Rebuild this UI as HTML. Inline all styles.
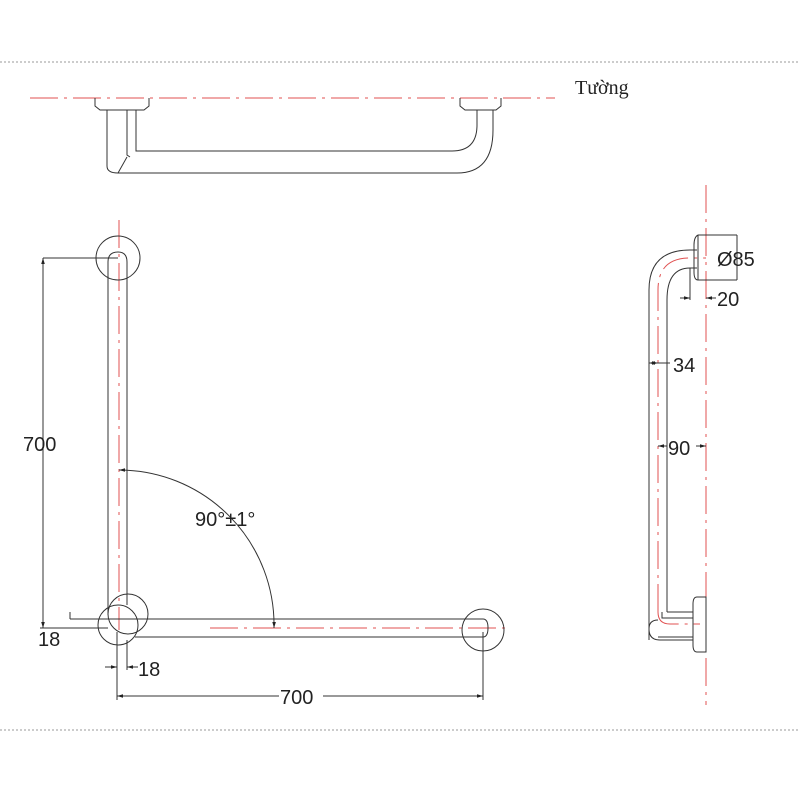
<!DOCTYPE html>
<html><head><style>body{margin:0;background:#fff}svg{display:block}text{font-family:"Liberation Sans",sans-serif;fill:#222}</style></head>
<body>
<svg width="800" height="800" viewBox="0 0 800 800" xmlns="http://www.w3.org/2000/svg">
<defs><marker id="a" viewBox="0 0 10 10" refX="10" refY="5" markerWidth="6" markerHeight="6" orient="auto-start-reverse"><path d="M0,2 L10,5 L0,8z" fill="#222"/></marker></defs>
<g stroke="#999" stroke-dasharray="2,2" stroke-width="1"><line x1="0" y1="62" x2="800" y2="62"/><line x1="0" y1="730" x2="800" y2="730"/></g>
<g stroke="#e05050" stroke-width="1" stroke-dasharray="28,6,3,6" fill="none">
<line x1="30" y1="98" x2="555" y2="98"/>
<line x1="119" y1="220" x2="119" y2="630"/>
<line x1="210" y1="628" x2="505" y2="628"/>
<line x1="706" y1="185" x2="706" y2="705"/>
<path d="M658,612 V290 Q658,258 690,258 H706"/>
<path d="M658,612 Q658,624 670,624 H700"/>
</g>
<g stroke="#333" stroke-width="1" fill="none">
<path d="M95,98 V106 L100,110 H144 L149,106 V98"/>
<path d="M460,98 V106 L465,110 H496 L501,106 V98"/>
<path d="M107,110 V166 Q107,173 118,173 H457 Q493,173 493,130 V110"/>
<path d="M477,110 V125 Q477,151 452,151 H136 V110"/>
<path d="M127,110 V155 L130,157"/><line x1="118" y1="173" x2="127" y2="157"/>
<text x="575" y="94" style="font-family:'Liberation Serif',serif;font-size:20px" stroke="none">Tường</text>
<circle cx="118" cy="258" r="22"/>
<path d="M108,615 V262 Q108,252 118,252 Q127,252 127,262 V605"/>
<circle cx="128" cy="614" r="20"/><circle cx="118" cy="625" r="20"/>
<path d="M140,619 H483 Q488,619 488,628 Q488,637 483,637 H135"/>
<circle cx="483" cy="630" r="21"/>
<line x1="70" y1="619" x2="140" y2="619"/><line x1="40" y1="628" x2="108" y2="628"/>
<line x1="70" y1="612" x2="70" y2="619"/>
<line x1="43" y1="258" x2="118" y2="258"/>
<line x1="43" y1="258" x2="43" y2="628" marker-start="url(#a)" marker-end="url(#a)"/>
<line x1="117" y1="632" x2="117" y2="700"/><line x1="483" y1="632" x2="483" y2="700"/>
<line x1="127" y1="640" x2="127" y2="670"/>
<line x1="117" y1="696" x2="483" y2="696" marker-start="url(#a)" marker-end="url(#a)"/>
<line x1="105" y1="667" x2="117" y2="667" marker-end="url(#a)"/>
<line x1="138" y1="667" x2="127" y2="667" marker-end="url(#a)"/>
<path d="M274,628 A155,155 0 0 0 119,470" marker-start="url(#a)" marker-end="url(#a)"/>
<path d="M698,235 H737 M698,280 H737 M737,235 V280"/>
<path d="M698,235 Q694,237 694,245 V272 Q694,280 698,280 V235"/>
<path d="M649,640 V290 Q649,250 690,250 H697"/>
<path d="M667,612 V300 Q667,268 690,268 H697"/>
<line x1="690" y1="268" x2="690" y2="300"/>
<path d="M697,597 H706 V652 H697 Q693,652 693,645 V604 Q693,597 697,597Z"/>
<path d="M667,612 H693 M662,612 V618 H693 M658,637 H693"/>
<path d="M658,620 Q649,620 649,629 Q649,640 660,640 H693"/>
<line x1="680" y1="298" x2="690" y2="298" marker-end="url(#a)"/>
<line x1="716" y1="298" x2="706" y2="298" marker-end="url(#a)"/>
<line x1="670" y1="363" x2="649" y2="363" marker-end="url(#a)"/>
<line x1="649" y1="363" x2="658" y2="363" marker-end="url(#a)"/>
<line x1="667" y1="446" x2="658" y2="446" marker-end="url(#a)"/>
<line x1="696" y1="446" x2="706" y2="446" marker-end="url(#a)"/>
</g>
<g style="font-size:20px">
<text x="23" y="451">700</text>
<text x="38" y="646">18</text>
<text x="138" y="676">18</text>
<rect x="279" y="684" width="44" height="22" fill="#fff"/>
<text x="280" y="704">700</text>
<text x="195" y="526">90°±1°</text>
<text x="717" y="266">Ø85</text>
<text x="717" y="306">20</text>
<text x="673" y="372">34</text>
<text x="668" y="455">90</text>
</g>
</svg>
</body></html>
